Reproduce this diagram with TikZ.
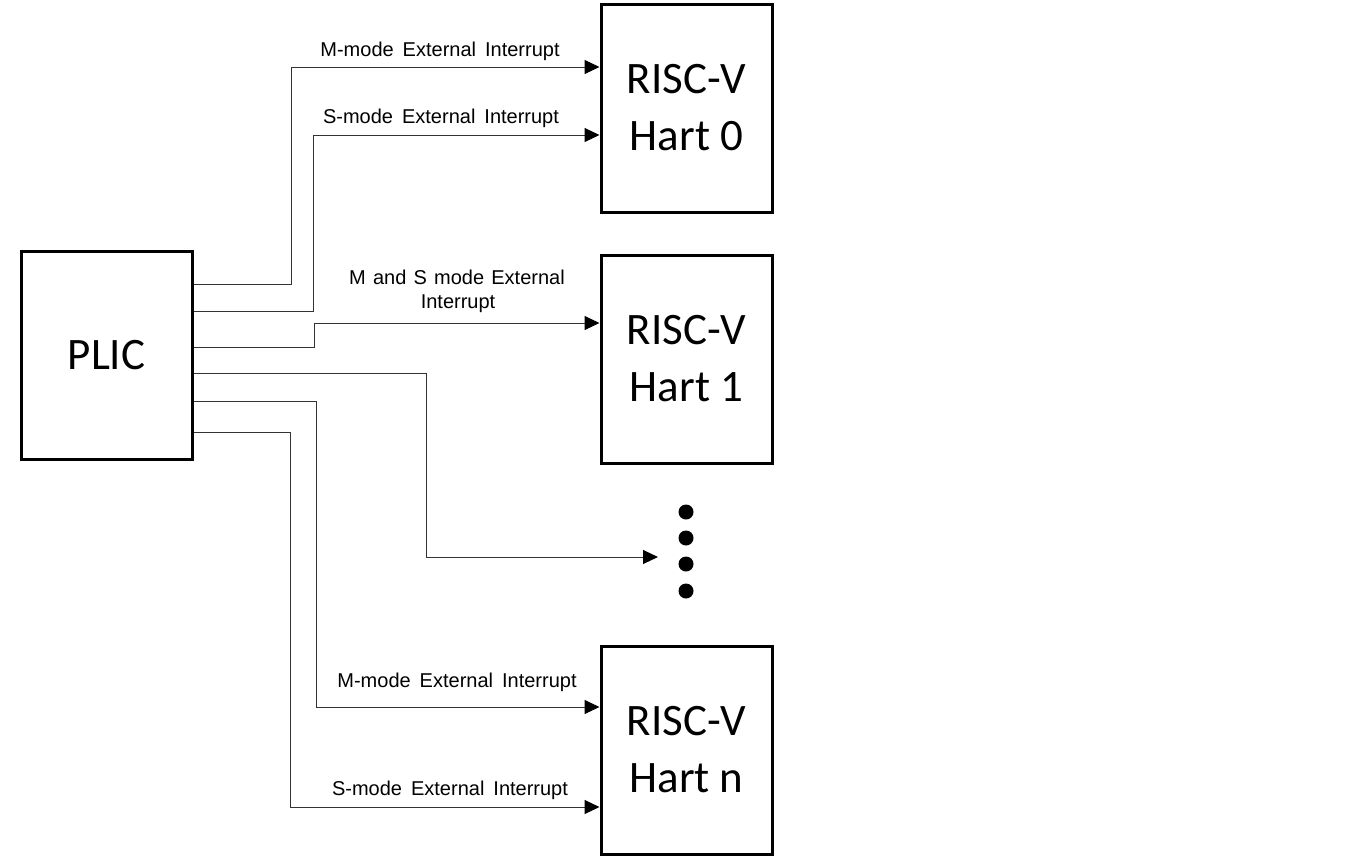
\documentclass[tikz,border=0pt]{standalone}
\usepackage{fontspec}
\setmainfont{Liberation Sans}
\newfontfamily\boxfont{Carlito}
\usetikzlibrary{arrows.meta}
\newcommand\mylblfont{\fontsize{20}{24}\selectfont\spaceskip=9pt plus 2pt minus 1pt\relax}
\newcommand\mylblfontb{\fontsize{20}{24}\selectfont\spaceskip=7.2pt plus 2pt minus 1pt\relax}
\begin{document}
\begin{tikzpicture}[x=1pt,y=-1pt,
  blk/.style={draw=black,line width=3pt,minimum width=171pt,minimum height=208pt,inner sep=0pt,
    align=center,font=\boxfont\fontsize{45}{57}\selectfont},
  wire/.style={draw=black!80,line width=1pt},
  sig/.style={wire,-{Triangle[length=15pt,width=14pt,color=black]}},
  lbl/.style={inner sep=0pt,align=center,font=\mylblfont},
  dotm/.style={circle,fill=black,minimum size=15pt,inner sep=0pt}]
\useasboundingbox (0,0) rectangle (1345,865);
\node[blk] (plic) at (106.5,355) {PLIC};
\node[blk] (h0) at (686.5,108) {RISC-V\\Hart 0};
\node[blk] (h1) at (686.5,359) {RISC-V\\Hart 1};
\node[blk] (hn) at (686.5,750) {RISC-V\\Hart n};
% exits from PLIC
\coordinate (o1) at (plic.east |- 0,284);
\coordinate (o2) at (plic.east |- 0,311);
\coordinate (o3) at (plic.east |- 0,347);
\coordinate (o4) at (plic.east |- 0,373);
\coordinate (o5) at (plic.east |- 0,401);
\coordinate (o6) at (plic.east |- 0,432);
% arrival points
\coordinate (a1) at (h0.west |- 0,67);
\coordinate (a2) at (h0.west |- 0,135);
\coordinate (a3) at (h1.west |- 0,323);
\coordinate (a4) at (658,557);
\coordinate (a5) at (hn.west |- 0,707);
\coordinate (a6) at (hn.west |- 0,807);
\draw[sig] (o1) -- (291,284) |- (a1);
\draw[sig] (o2) -- (313,311) |- (a2);
\draw[sig] (o3) -- (314,347) |- (a3);
\draw[sig] (o4) -- (426,373) |- (a4);
\draw[sig] (o5) -- (316,401) |- (a5);
\draw[sig] (o6) -- (290,432) |- (a6);
% labels
\node[lbl,anchor=base] (l1) at (440,56) {M-mode External Interrupt};
\node[lbl,anchor=base] (l2) at (441,123) {S-mode External Interrupt};
\node[lbl,anchor=base,font=\mylblfontb] (l3a) at (457,284) {M and S mode External};
\node[lbl,anchor=base] (l3b) at (458,308) {Interrupt};
\node[lbl,anchor=base] (l5) at (457,687) {M-mode External Interrupt};
\node[lbl,anchor=base] (l6) at (450,795) {S-mode External Interrupt};
% dots
\node[dotm] (d1) at (686,512) {};
\node[dotm] (d2) at (686,538) {};
\node[dotm] (d3) at (686,564) {};
\node[dotm] (d4) at (686,591) {};
\end{tikzpicture}
\end{document}
